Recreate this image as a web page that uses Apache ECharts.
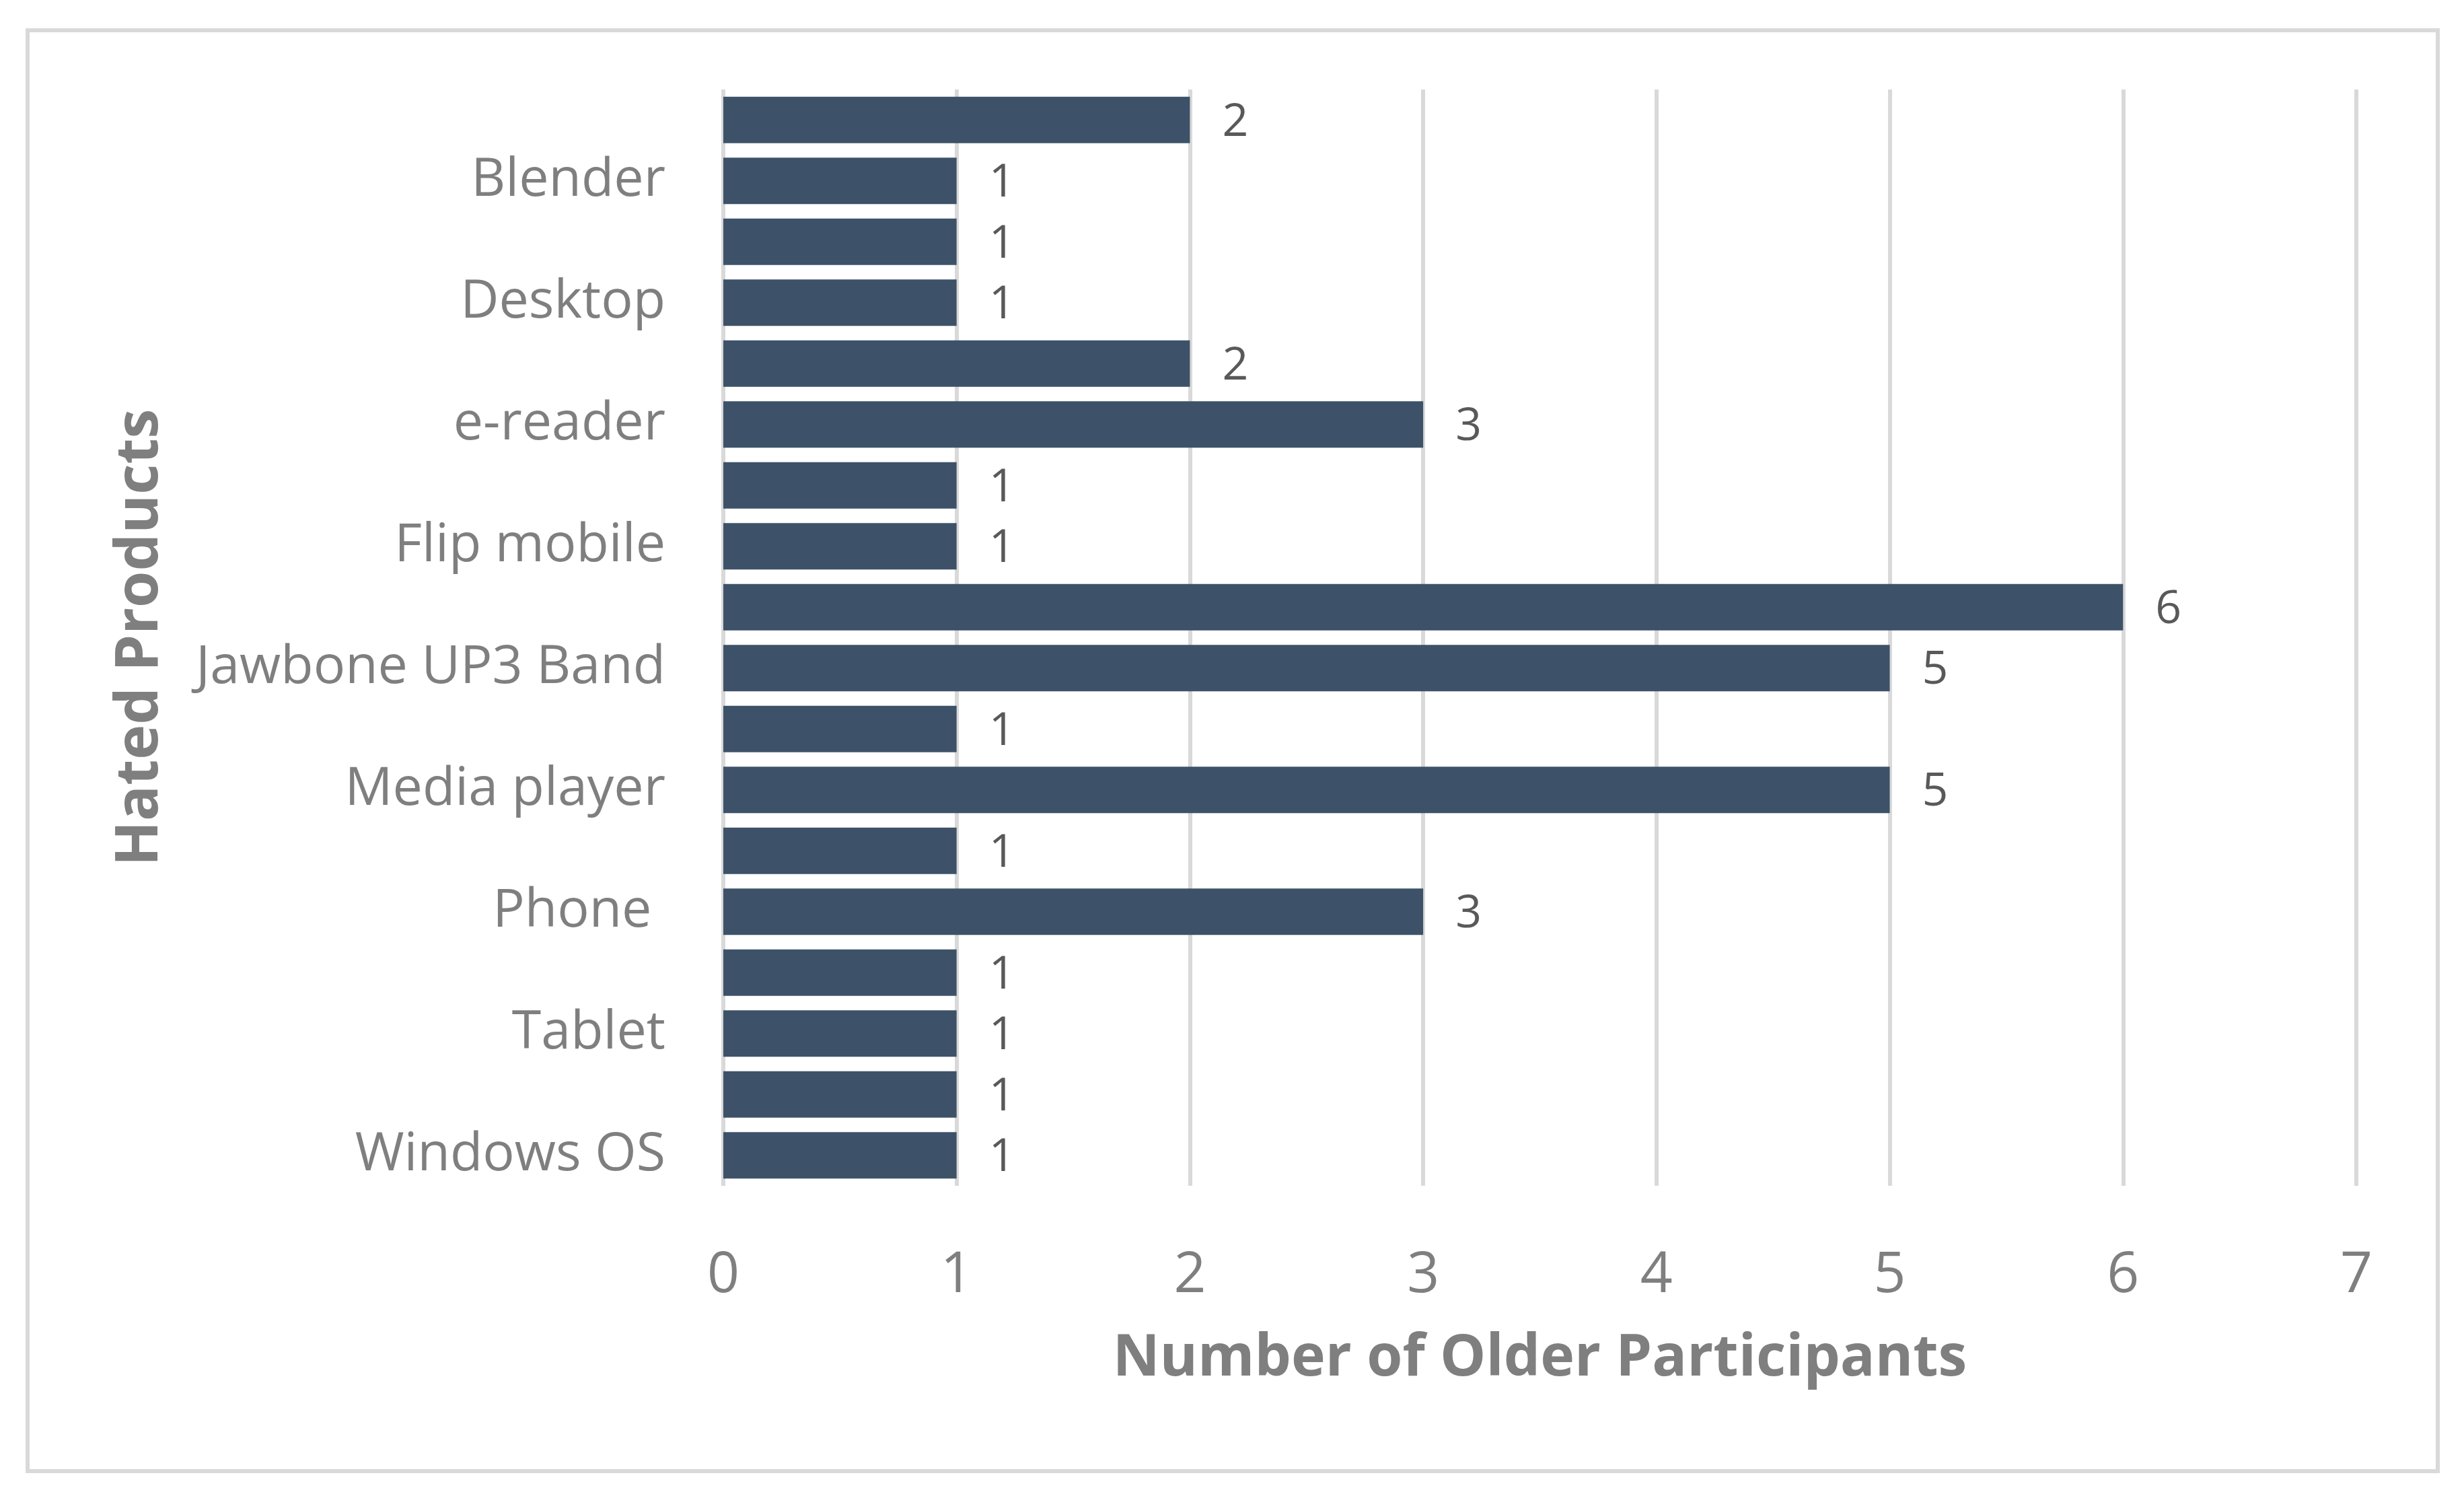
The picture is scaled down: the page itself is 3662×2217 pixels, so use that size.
<!DOCTYPE html>
<html>
<head>
<meta charset="utf-8">
<script src="https://cdn.jsdelivr.net/npm/echarts@6/dist/echarts.min.js"></script>
<style>
  html, body { margin: 0; padding: 0; background: #fff; }
  #chart { width: 3662px; height: 2217px; }
</style>
</head>
<body>
<div id="chart"></div>
<script>
// categories top to bottom; only every other one gets a label (like the Excel original)
const products = [
  'Apple Watch', 'Blender', 'Camera', 'Desktop', 'Digital camera', 'e-reader',
  'Fitbit', 'Flip mobile', 'GPS', 'Jawbone UP3 Band', 'Laptop', 'Media player',
  'Microwave', 'Phone ', 'Smartwatch', 'Tablet', 'TV', 'Windows OS'
];
const olderCounts = [2, 1, 1, 1, 2, 3, 1, 1, 6, 5, 1, 5, 1, 3, 1, 1, 1, 1];
const xTicks = [0, 1, 2, 3, 4, 5, 6, 7];

const FONT = '"Open Sans", "Noto Sans", sans-serif';
const GRID_COLOR = '#d9d9d9';

const chart = echarts.init(document.getElementById('chart'));

chart.setOption({
  backgroundColor: '#ffffff',
  animation: false,
  textStyle: { fontFamily: FONT },
  graphic: [{ // outer chart frame
    type: 'rect',
    left: 38, top: 42,
    shape: { width: 3582, height: 2141 },
    style: { fill: 'none', stroke: GRID_COLOR, lineWidth: 6 }
  }],
  grid: { left: 1075, right: 160, top: 133, bottom: 455, containLabel: false },
  xAxis: {
    type: 'value',
    min: xTicks[0],
    max: xTicks[xTicks.length - 1],
    interval: 1,
    name: 'Number of Older Participants',
    nameLocation: 'middle',
    nameGap: 214,
    nameTextStyle: { fontFamily: FONT, fontSize: 86, fontWeight: 'bold', color: '#7f7f7f' },
    axisLine: { show: false },
    axisTick: { show: false },
    axisLabel: { margin: 92, fontSize: 84, color: '#7f7f7f', fontFamily: FONT },
    splitLine: { show: true, lineStyle: { color: GRID_COLOR, width: 6 } }
  },
  yAxis: {
    type: 'category',
    inverse: true,
    data: products,
    name: 'Hated Products',
    nameLocation: 'middle',
    nameGap: 822,
    nameRotate: 90,
    nameTextStyle: { fontFamily: FONT, fontSize: 88, fontWeight: 'bold', color: '#7f7f7f' },
    axisLine: { show: false },
    axisTick: { show: false },
    splitLine: { show: false },
    axisLabel: {
      interval: (i) => i % 2 === 1,
      margin: 86,
      fontSize: 79,
      color: '#7f7f7f',
      fontFamily: FONT,
      padding: [8, 0, 0, 0]
    }
  },
  series: [{
    type: 'bar',
    data: olderCounts,
    barCategoryGap: '24%',
    itemStyle: { color: '#3d5269' },
    label: {
      show: true,
      position: 'right',
      distance: 48,
      fontSize: 68,
      color: '#595959',
      fontFamily: FONT,
      offset: [0, 4]
    }
  }]
});
</script>
</body>
</html>
